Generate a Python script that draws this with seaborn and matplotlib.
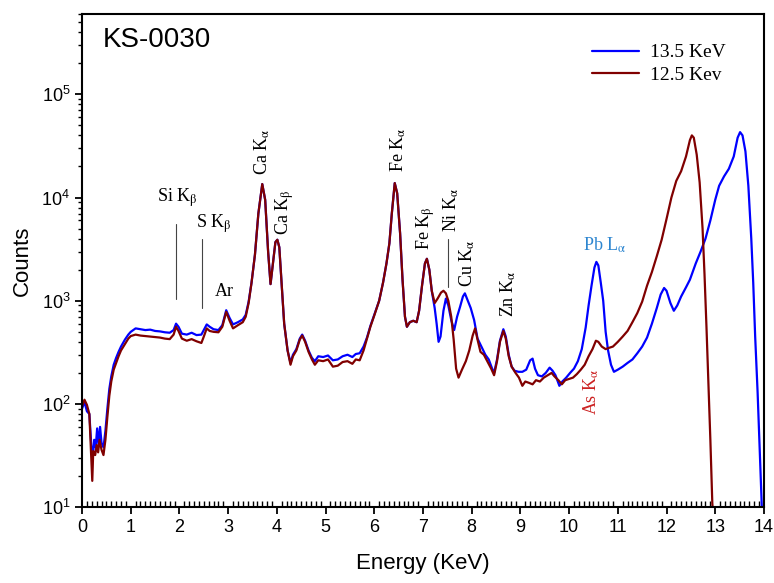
import pandas as pd
import matplotlib
matplotlib.use('Agg')
import matplotlib.pyplot as plt
from matplotlib.ticker import MultipleLocator, LogLocator, NullFormatter
import seaborn as sns

# 13.5 KeV spectrum (blue)
e_135 = [0.00, 0.05, 0.10, 0.15, 0.19, 0.22, 0.25, 0.28, 0.31, 0.34, 0.37, 0.40, 0.44, 0.48,
         0.52, 0.56, 0.60, 0.65, 0.70, 0.75, 0.80, 0.88, 0.95, 1.00, 1.10, 1.20, 1.30, 1.40,
         1.50, 1.60, 1.70, 1.80, 1.88, 1.93, 1.98, 2.05, 2.15, 2.25, 2.35, 2.45, 2.50, 2.56,
         2.62, 2.70, 2.80, 2.88, 2.96, 3.03, 3.10, 3.20, 3.30, 3.36, 3.42, 3.48, 3.55, 3.62,
         3.70, 3.76, 3.82, 3.87, 3.92, 3.97, 4.01, 4.05, 4.10, 4.15, 4.22, 4.28, 4.33, 4.40,
         4.47, 4.52, 4.58, 4.65, 4.72, 4.78, 4.85, 4.95, 5.05, 5.15, 5.25, 5.35, 5.45, 5.55,
         5.62, 5.70, 5.78, 5.85, 5.92, 6.00, 6.10, 6.18, 6.25, 6.31, 6.36, 6.42, 6.47, 6.53,
         6.58, 6.63, 6.67, 6.73, 6.80, 6.87, 6.92, 6.98, 7.04, 7.08, 7.13, 7.18, 7.24, 7.28,
         7.32, 7.36, 7.42, 7.47, 7.52, 7.58, 7.64, 7.70, 7.76, 7.82, 7.86, 7.92, 7.98, 8.05,
         8.12, 8.20, 8.28, 8.35, 8.42, 8.46, 8.52, 8.58, 8.65, 8.70, 8.76, 8.82, 8.88, 8.96,
         9.04, 9.12, 9.20, 9.25, 9.30, 9.36, 9.44, 9.52, 9.60, 9.66, 9.72, 9.80, 9.86, 9.94,
         10.02, 10.10, 10.18, 10.26, 10.34, 10.40, 10.46, 10.52, 10.56, 10.60, 10.65, 10.70,
         10.75, 10.80, 10.86, 10.92, 11.00, 11.10, 11.20, 11.30, 11.40, 11.50, 11.60, 11.70,
         11.80, 11.88, 11.95, 12.00, 12.08, 12.15, 12.22, 12.30, 12.40, 12.48, 12.60, 12.70,
         12.80, 12.90, 13.00, 13.08, 13.18, 13.28, 13.38, 13.46, 13.51, 13.56, 13.62, 13.68,
         13.74, 13.78, 13.82, 13.87, 13.92, 13.96]
c_135 = [90, 105, 85, 80, 40, 30, 45, 38, 58, 40, 60, 42, 38, 55,
         90, 140, 185, 240, 280, 320, 360, 420, 470, 500, 540, 530, 520, 525,
         510, 505, 495, 490, 520, 600, 560, 480, 470, 490, 465, 470, 520, 590,
         560, 530, 520, 580, 810, 680, 590, 620, 660, 730, 980, 1500, 2800, 7000,
         13500, 9500, 3000, 1450, 2300, 3700, 3900, 3300, 1400, 600, 330, 250, 300, 340,
         430, 470, 410, 330, 280, 260, 290, 285, 295, 265, 270, 290, 300, 285,
         305, 310, 360, 440, 570, 730, 1000, 1500, 2300, 3600, 7000, 13800, 11000, 4500,
         1600, 700, 560, 620, 640, 620, 800, 1400, 2300, 2550, 2000, 1250, 850, 600,
         400, 450, 800, 1050, 900, 650, 520, 700, 870, 1100, 1180, 1000, 850, 650,
         430, 360, 300, 270, 220, 200, 270, 410, 530, 450, 300, 230, 210, 205,
         205, 215, 265, 275, 220, 190, 185, 200, 225, 210, 190, 150, 165, 180,
         200, 220, 260, 340, 550, 900, 1400, 2100, 2380, 2200, 1500, 1000,
         500, 330, 240, 205, 215, 230, 250, 270, 310, 360, 440, 600,
         850, 1150, 1330, 1250, 950, 800, 900, 1100, 1350, 1600, 2300, 3000,
         4000, 6000, 9500, 13000, 16000, 19000, 25000, 38000, 43000, 40000, 28000, 13000,
         4000, 1500, 450, 130, 30, 9]

# 12.5 Kev spectrum (dark red)
e_125 = [0.00, 0.05, 0.10, 0.15, 0.19, 0.21, 0.23, 0.27, 0.30, 0.33, 0.36, 0.40, 0.44, 0.48,
         0.52, 0.56, 0.60, 0.65, 0.70, 0.75, 0.80, 0.88, 0.95, 1.00, 1.10, 1.20, 1.30, 1.40,
         1.50, 1.60, 1.70, 1.80, 1.88, 1.93, 1.98, 2.05, 2.15, 2.25, 2.35, 2.45, 2.50, 2.56,
         2.62, 2.70, 2.80, 2.88, 2.96, 3.03, 3.10, 3.20, 3.30, 3.36, 3.42, 3.48, 3.55, 3.62,
         3.70, 3.76, 3.82, 3.87, 3.92, 3.97, 4.01, 4.05, 4.10, 4.15, 4.22, 4.28, 4.33, 4.40,
         4.47, 4.52, 4.58, 4.65, 4.72, 4.78, 4.85, 4.95, 5.05, 5.15, 5.25, 5.35, 5.45, 5.55,
         5.62, 5.70, 5.78, 5.85, 5.92, 6.00, 6.10, 6.18, 6.25, 6.31, 6.36, 6.42, 6.47, 6.53,
         6.58, 6.63, 6.67, 6.73, 6.80, 6.87, 6.92, 6.98, 7.04, 7.08, 7.13, 7.18, 7.24, 7.30,
         7.37, 7.42, 7.47, 7.52, 7.58, 7.63, 7.68, 7.73, 7.80, 7.88, 7.95, 8.02, 8.07, 8.12,
         8.18, 8.25, 8.32, 8.40, 8.46, 8.52, 8.58, 8.65, 8.70, 8.76, 8.82, 8.90, 8.97, 9.04,
         9.10, 9.18, 9.25, 9.32, 9.40, 9.48, 9.56, 9.64, 9.70, 9.78, 9.85, 9.92, 10.00, 10.08,
         10.16, 10.24, 10.32, 10.40, 10.48, 10.55, 10.60, 10.67, 10.75, 10.82, 10.90, 11.00,
         11.10, 11.20, 11.30, 11.40, 11.50, 11.60, 11.70, 11.80, 11.90, 12.00, 12.10, 12.20,
         12.30, 12.40, 12.48, 12.52, 12.56, 12.62, 12.68, 12.74, 12.78, 12.82, 12.86, 12.90,
         12.94, 12.96]
c_125 = [95, 110, 98, 80, 30, 18, 35, 32, 40, 34, 45, 36, 32, 45,
         75, 120, 165, 215, 250, 290, 330, 380, 430, 455, 470, 460, 455, 450,
         445, 440, 430, 425, 470, 560, 510, 430, 410, 425, 405, 390, 450, 540,
         510, 500, 495, 560, 780, 640, 540, 580, 620, 700, 950, 1500, 2800, 7000,
         13500, 9500, 3000, 1450, 2300, 3700, 3900, 3300, 1400, 600, 330, 240, 290, 330,
         420, 460, 400, 320, 270, 240, 265, 260, 270, 230, 235, 255, 260, 245,
         270, 265, 330, 430, 560, 720, 1000, 1500, 2300, 3600, 7000, 13800, 11000, 4500,
         1600, 700, 560, 620, 640, 620, 800, 1400, 2300, 2550, 2000, 1250, 950, 1050,
         1200, 1250, 1180, 1000, 700, 420, 220, 180, 215, 260, 330, 460, 540, 420,
         320, 300, 260, 220, 190, 260, 400, 510, 430, 290, 230, 200, 180, 150,
         165, 160, 155, 170, 165, 180, 190, 200, 185, 170, 155, 170, 175, 180,
         195, 215, 240, 290, 340, 410, 400, 360, 340, 350, 360, 400,
         450, 510, 620, 760, 980, 1400, 1900, 2700, 3900, 6200, 10000, 14500,
         18000, 25000, 36000, 40000, 38000, 26000, 14000, 5000, 1800, 560, 160, 45,
         11, 8]

series_names = ['13.5 KeV', '12.5 Kev']
series_colors = ['#0000FF', '#800000']

df = pd.concat([
    pd.DataFrame({'energy': e_135, 'counts': c_135, 'series': series_names[0]}),
    pd.DataFrame({'energy': e_125, 'counts': c_125, 'series': series_names[1]}),
])

sns.set_style('ticks')
plt.rcParams['font.family'] = ['Liberation Sans', 'DejaVu Sans']
plt.rcParams['mathtext.fontset'] = 'custom'
plt.rcParams['mathtext.rm'] = 'Liberation Sans'
plt.rcParams['mathtext.it'] = 'Liberation Sans:italic'
for k in ['text.color', 'axes.labelcolor', 'xtick.color', 'ytick.color', 'axes.edgecolor']:
    plt.rcParams[k] = 'black'

fig = plt.figure(figsize=(7.74, 5.83), dpi=100)
ax = fig.add_axes([0.106, 0.130, 0.881, 0.846])

sns.lineplot(data=df, x='energy', y='counts', hue='series', hue_order=series_names,
             palette=series_colors, linewidth=1.6, sort=False, estimator=None, ax=ax)

ax.set_yscale('log')
ax.set_xlim(0, 14)
ax.set_ylim(10, 6e5)
ax.xaxis.set_major_locator(MultipleLocator(1))
ax.xaxis.set_minor_locator(MultipleLocator(0.1))
ax.yaxis.set_major_locator(LogLocator(base=10, numticks=10))
ax.yaxis.set_minor_locator(LogLocator(base=10, subs=range(2, 10), numticks=20))
ax.yaxis.set_minor_formatter(NullFormatter())
ax.tick_params(axis='x', which='major', direction='out', length=5, width=1.3, labelsize=13)
ax.tick_params(axis='x', which='minor', direction='in', length=4, width=1)
ax.tick_params(axis='y', which='major', direction='out', length=5, width=1.3, labelsize=13)
ax.tick_params(axis='y', which='minor', direction='out', length=3, width=1)
for s in ax.spines.values():
    s.set_linewidth(1.5)

ax.set_xlabel('Energy (KeV)', fontsize=16, labelpad=12)
ax.set_ylabel('Counts', fontsize=16, labelpad=6)

ax.legend(loc='upper right', bbox_to_anchor=(0.97, 0.975), frameon=False,
          prop={'family': 'Liberation Serif', 'size': 14}, handlelength=2.4,
          handletextpad=0.6, labelspacing=0.25)

ax.text(0.43, 3.35e5, 'KS-0030', fontsize=20, va='center', ha='left')

serif = dict(fontfamily='Liberation Serif', math_fontfamily='stix', fontsize=13)
A = r'$_\mathrm{α}$'
B = r'$_\mathrm{β}$'
ax.text(1.54, 1.0e4, 'Si K' + B, ha='left', va='center', **serif)
ax.text(2.33, 5.6e3, 'S K' + B, ha='left', va='center', **serif)
ax.text(2.72, 1.22e3, 'Ar', ha='left', va='center', **serif)
ax.text(3.70, 1.65e4, 'Ca K' + A, rotation=90, ha='center', va='bottom', **serif)
ax.text(4.17, 4.3e3, 'Ca K' + B, rotation=90, ha='center', va='bottom', **serif)
ax.text(6.49, 1.75e4, 'Fe K' + A, rotation=90, ha='center', va='bottom', **serif)
ax.text(7.06, 3.1e3, 'Fe K' + B, rotation=90, ha='center', va='bottom', **serif)
ax.text(7.59, 4.6e3, 'Ni K' + A, rotation=90, ha='center', va='bottom', **serif)
ax.text(7.90, 1.36e3, 'Cu K' + A, rotation=90, ha='center', va='bottom', **serif)
ax.text(8.75, 7.0e2, 'Zn K' + A, rotation=90, ha='center', va='bottom', **serif)
ax.text(10.29, 3.46e3, 'Pb L' + A, ha='left', va='center', color='#2E86D0',
        fontfamily='Liberation Serif', math_fontfamily='stix', fontsize=13)
ax.text(10.46, 78, 'As K' + A, rotation=90, ha='center', va='bottom', color='#CC2222',
        fontfamily='Liberation Serif', math_fontfamily='stix', fontsize=13)

# marker lines for Si, S and Ni
ax.plot([1.92, 1.92], [1.04e3, 5.6e3], color='#444444', linewidth=0.8)
ax.plot([2.46, 2.46], [8.6e2, 4.0e3], color='#444444', linewidth=0.8)
ax.plot([7.51, 7.51], [1.35e3, 4.0e3], color='#444444', linewidth=0.8)

fig.savefig('out.png', dpi=100)
